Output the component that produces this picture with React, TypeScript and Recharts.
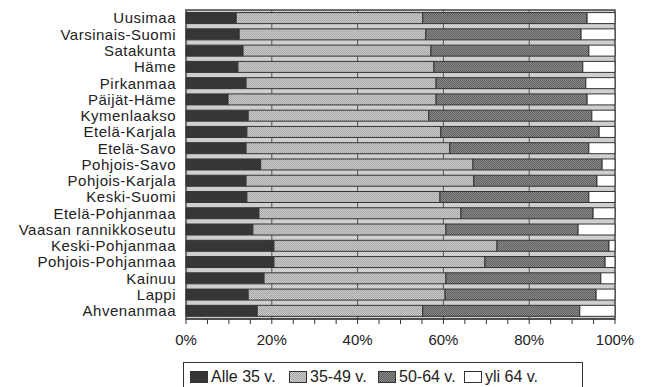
import { BarChart, Bar, XAxis, YAxis, CartesianGrid, ReferenceArea } from "recharts";

const regions = [
  "Uusimaa", "Varsinais-Suomi", "Satakunta", "Häme", "Pirkanmaa", "Päijät-Häme",
  "Kymenlaakso", "Etelä-Karjala", "Etelä-Savo", "Pohjois-Savo", "Pohjois-Karjala",
  "Keski-Suomi", "Etelä-Pohjanmaa", "Vaasan rannikkoseutu", "Keski-Pohjanmaa",
  "Pohjois-Pohjanmaa", "Kainuu", "Lappi", "Ahvenanmaa",
];

const alle35 = [11.7, 12.4, 13.3, 12.1, 14.0, 9.8, 14.5, 14.2, 14.0, 17.4, 14.0, 14.2, 17.0, 15.6, 20.5, 20.5, 18.2, 14.5, 16.6];
const v35to49 = [43.5, 43.5, 43.8, 45.7, 44.3, 48.5, 42.1, 45.2, 47.5, 49.5, 53.1, 45.0, 47.1, 45.0, 52.0, 49.2, 42.4, 45.9, 38.6];
const v50to64 = [38.3, 36.2, 36.8, 34.7, 34.9, 35.2, 38.0, 36.9, 32.4, 30.1, 28.7, 34.7, 30.8, 30.8, 26.1, 28.0, 36.1, 35.2, 36.6];
const yli64 = [6.5, 7.9, 6.1, 7.5, 6.8, 6.5, 5.4, 3.7, 6.1, 3.0, 4.2, 6.1, 5.1, 8.6, 1.4, 2.3, 3.3, 4.4, 8.2];

const xTicks = [0, 5, 10, 15, 20, 25, 30, 35, 40, 45, 50, 55, 60, 65, 70, 75, 80, 85, 90, 95, 100];
const legendLabels = ["Alle 35 v.", "35-49 v.", "50-64 v.", "yli 64 v."];

const data = regions.map((name, i) => ({
  name,
  a: alle35[i],
  b: v35to49[i],
  c: v50to64[i],
  d: yli64[i],
}));

const fills = ["#363636", "url(#patLight)", "url(#patMid)", "#ffffff"];
const legendLeft = [6, 105, 194, 280];
const font = "'Liberation Sans', Arial, sans-serif";

export default function App() {
  return (
    <div style={{ position: "absolute", left: 0, top: 0, width: 648, height: 387, background: "#fff", overflow: "hidden" }}>
      <BarChart
        width={648}
        height={387}
        data={data}
        layout="vertical"
        barCategoryGap="16%"
        margin={{ top: 10, right: 33, bottom: 38, left: 0 }}
      >
        <defs>
          <pattern id="patLight" width="2" height="2" patternUnits="userSpaceOnUse">
            <rect width="2" height="2" fill="#cdcdcd" />
            <rect width="1" height="1" fill="#a4a4a4" />
            <rect x="1" y="1" width="1" height="1" fill="#a4a4a4" />
          </pattern>
          <pattern id="patMid" width="2" height="2" patternUnits="userSpaceOnUse">
            <rect width="2" height="2" fill="#8c8c8c" />
            <rect width="1" height="1" fill="#5e5e5e" />
            <rect x="1" y="1" width="1" height="1" fill="#5e5e5e" />
          </pattern>
        </defs>
        <CartesianGrid
          horizontal={false}
          verticalValues={[20, 40, 60, 80]}
          stroke="#555"
          fill="#cfcfcf"
          fillOpacity={1}
        />
        <XAxis
          type="number"
          domain={[0, 100]}
          ticks={xTicks}
          interval={0}
          tickFormatter={(v: number) => (v % 20 === 0 ? `${v}%` : "")}
          tick={{ fontSize: 15, fill: "#222", fontFamily: font }}
          axisLine={{ stroke: "#333" }}
          tickLine={{ stroke: "#333" }}
          tickSize={5}
          tickMargin={10}
          height={30}
        />
        <YAxis
          type="category"
          dataKey="name"
          width={186}
          interval={0}
          axisLine={false}
          tickLine={false}
          tickMargin={4}
          tick={{ fontSize: 15, fill: "#222", fontFamily: font, letterSpacing: 0.5 }}
        />
        {(["a", "b", "c", "d"] as const).map((k, i) => (
          <Bar
            key={k}
            dataKey={k}
            stackId="s"
            fill={fills[i]}
            stroke="#333"
            strokeWidth={1}
            isAnimationActive={false}
          />
        ))}
        <ReferenceArea x1={0} x2={100} fill="none" stroke="#444" strokeWidth={1.5} />
      </BarChart>
      <div
        style={{
          position: "absolute",
          left: 183,
          top: 362,
          width: 400,
          height: 34,
          border: "1.5px solid #333",
          boxSizing: "border-box",
          fontFamily: font,
          fontSize: 16,
          color: "#222",
        }}
      >
        {legendLabels.map((l, i) => (
          <span
            key={l}
            style={{ position: "absolute", left: legendLeft[i], top: 5, display: "flex", alignItems: "center", whiteSpace: "nowrap" }}
          >
            <svg width={18} height={12} style={{ marginRight: 3 }}>
              <rect x={0.5} y={0.5} width={17} height={11} fill={fills[i]} stroke="#333" />
            </svg>
            {l}
          </span>
        ))}
      </div>
    </div>
  );
}
